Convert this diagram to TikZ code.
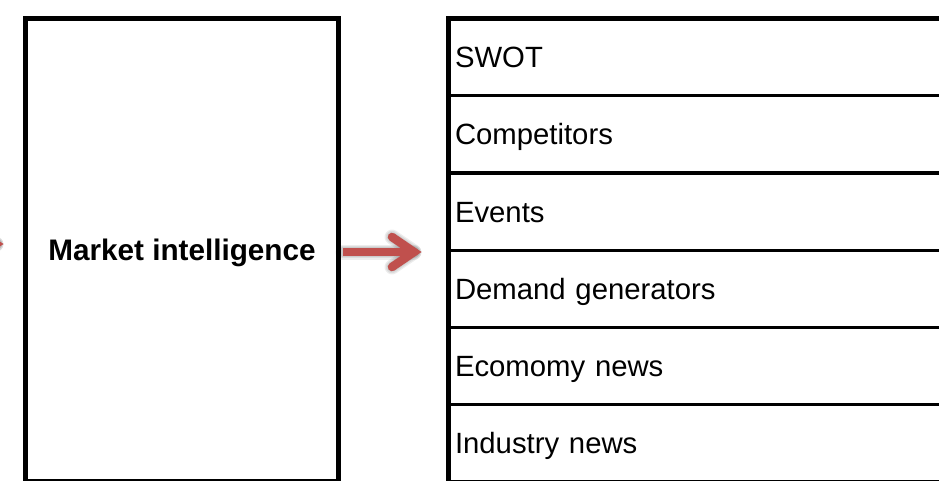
\documentclass[tikz,border=0pt]{standalone}
\usepackage{fontspec}
\setmainfont{Liberation Sans}
\usetikzlibrary{calc}
\definecolor{arrowred}{HTML}{C0504D}
\begin{document}
\begin{tikzpicture}[x=1pt,y=-1pt,
  frame/.style={draw=black, line width=5pt},
  cell/.style={rectangle, draw=black, line width=3.2pt, outer sep=0pt,
    inner xsep=6.5pt, inner ysep=0pt, minimum height=77.25pt,
    text width=500pt, align=left, anchor=north west,
    font=\fontsize{29.3}{35}\selectfont, text height=21pt, text depth=0pt},
  mainbox/.style={rectangle, draw=black, line width=5pt, outer sep=0pt,
    minimum width=313pt, minimum height=462.5pt,
    font=\bfseries\fontsize{29.7}{35}\selectfont, text height=21.3pt, text depth=0pt},
  shaft/.style={draw=arrowred, line width=8.5pt, line cap=butt},
  wings/.style={draw=arrowred, line width=8.5pt, line cap=round, line join=miter},
  haze/.style={draw=black, opacity=0.07, line cap=round, line join=round}
]
\useasboundingbox (0,0) rectangle (939,481);
\begin{scope}
\clip (0,0) rectangle (939,481);

% source box
\node[mainbox] (mi) at (182,249.75) {Market intelligence};

% list of topics, one row per entry
\node[cell] (r1) at (448.5,18.5)  {SWOT};
\node[cell] (r2) at (r1.south west) {Competitors};
\node[cell] (r3) at (r2.south west) {Events};
\node[cell] (r4) at (r3.south west) {Demand generators};
\node[cell] (r5) at (r4.south west) {Ecomomy news};
\node[cell] (r6) at (r5.south west) {Industry news};

% heavier outer border of the list
\draw[frame] (r6.south west) -- (r1.north west) -- (r1.north east);

% arrow from the box into the list
\coordinate (t1) at ([xshift=4.5pt,yshift=-2.25pt]mi.east);
\coordinate (h1) at ($(t1)+(71,0)$);
% incoming arrow entering from the left edge
\coordinate (h0) at ([xshift=-29.5pt,yshift=5.75pt]mi.west);
\coordinate (t0) at ($(h0)+(-71,0)$);

% soft shadows under the arrows
\foreach \w in {15,12.5,10}{
  \begin{scope}[shift={(1.5,3)}]
    \draw[haze, line width=\w pt] (t1) -- (h1);
    \draw[haze, line width=\w pt] ($(h1)+(-22,-15)$) -- (h1) -- ($(h1)+(-22,15)$);
    \draw[haze, line width=\w pt] (t0) -- (h0);
    \draw[haze, line width=\w pt] ($(h0)+(-22,-15)$) -- (h0) -- ($(h0)+(-22,15)$);
  \end{scope}
}

% arrows
\draw[shaft] (t1) -- (h1);
\draw[wings] ($(h1)+(-22,-15)$) -- (h1) -- ($(h1)+(-22,15)$);
\draw[shaft] (t0) -- (h0);
\draw[wings] ($(h0)+(-22,-15)$) -- (h0) -- ($(h0)+(-22,15)$);
\end{scope}
\end{tikzpicture}
\end{document}
